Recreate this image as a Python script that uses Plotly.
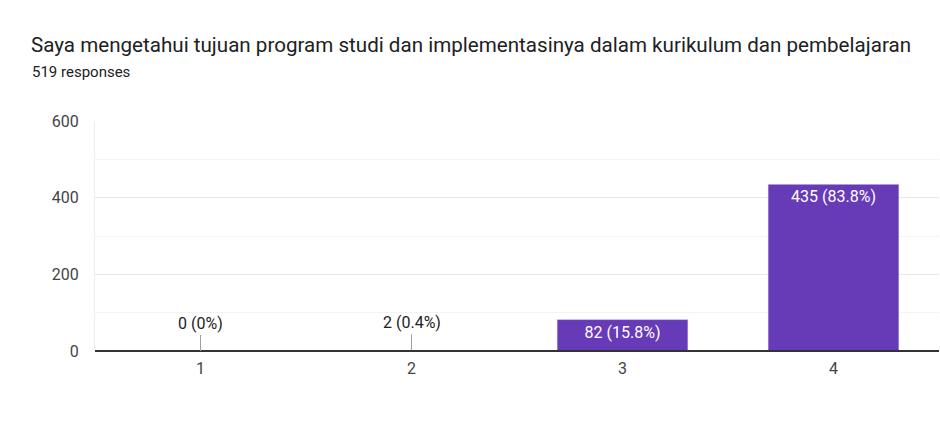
import plotly.graph_objects as go

TITLE = "Saya mengetahui tujuan program studi dan implementasinya dalam kurikulum dan pembelajaran"
SUBTITLE = "519 responses"

categories = ["1", "2", "3", "4"]
counts = [0, 2, 82, 435]
percents = ["0%", "0.4%", "15.8%", "83.8%"]
labels = [f"{c} ({p})" for c, p in zip(counts, percents)]

BAR_COLOR = "#673ab7"
FONT = "Roboto, Arial, sans-serif"

# big bars get the label inside, small ones get a label with a stem
inside = [c >= 40 for c in counts]

fig = go.Figure()
fig.add_trace(go.Bar(
    x=categories,
    y=counts,
    marker_color=BAR_COLOR,
    width=0.62,
    text=[lab if ins else "" for lab, ins in zip(labels, inside)],
    textposition="inside",
    insidetextanchor="end",
    textfont=dict(color="white", size=16, family=FONT),
    hoverinfo="skip",
))

for i, (cnt, lab, ins) in enumerate(zip(counts, labels, inside)):
    if ins:
        continue
    # category axis: annotation x is the category index
    fig.add_annotation(
        x=i, y=cnt, text=lab,
        showarrow=True, arrowhead=0, arrowwidth=1, arrowcolor="#9e9e9e",
        ax=0, ay=-16, standoff=0,
        font=dict(size=16, color="#222222", family=FONT),
        yanchor="bottom",
    )

fig.add_annotation(
    text=TITLE, xref="paper", yref="paper", x=-0.078, y=1.0, yshift=76,
    xanchor="left", yanchor="middle", showarrow=False,
    font=dict(size=20.6, color="#202124", family=FONT),
)
fig.add_annotation(
    text=SUBTITLE, xref="paper", yref="paper", x=-0.077, y=1.0, yshift=49,
    xanchor="left", yanchor="middle", showarrow=False,
    font=dict(size=15, color="#202124", family=FONT),
)

fig.update_layout(
    width=940, height=447,
    margin=dict(l=95, r=1, t=121, b=96),
    plot_bgcolor="white", paper_bgcolor="white",
    showlegend=False,
    bargap=0.38,
    font=dict(family=FONT, size=16, color="#444444"),
)
fig.update_xaxes(
    type="category",
    showgrid=False, showline=False,
    ticks="", ticklabelstandoff=6, tickfont=dict(size=16, color="#444444"),
)
fig.update_yaxes(
    range=[0, 600], tickvals=[0, 200, 400, 600],
    showgrid=True, gridcolor="#e8e8e8", gridwidth=1,
    minor=dict(tickvals=[100, 300, 500], showgrid=True, gridcolor="#f3f3f3"),
    showline=True, linecolor="#ececec",
    # dark baseline drawn over the bars, so the 2-response bar hides under it
    zeroline=True, zerolinecolor="#333333", zerolinewidth=2,
    zerolinelayer="above traces",
    ticklabelstandoff=12, tickfont=dict(size=16, color="#444444"),
)

# drop the default body margin so the figure sits at the window's corner
fig.write_html(
    "out.html",
    config={"displayModeBar": False},
    post_script="document.body.style.margin = '0';",
)
